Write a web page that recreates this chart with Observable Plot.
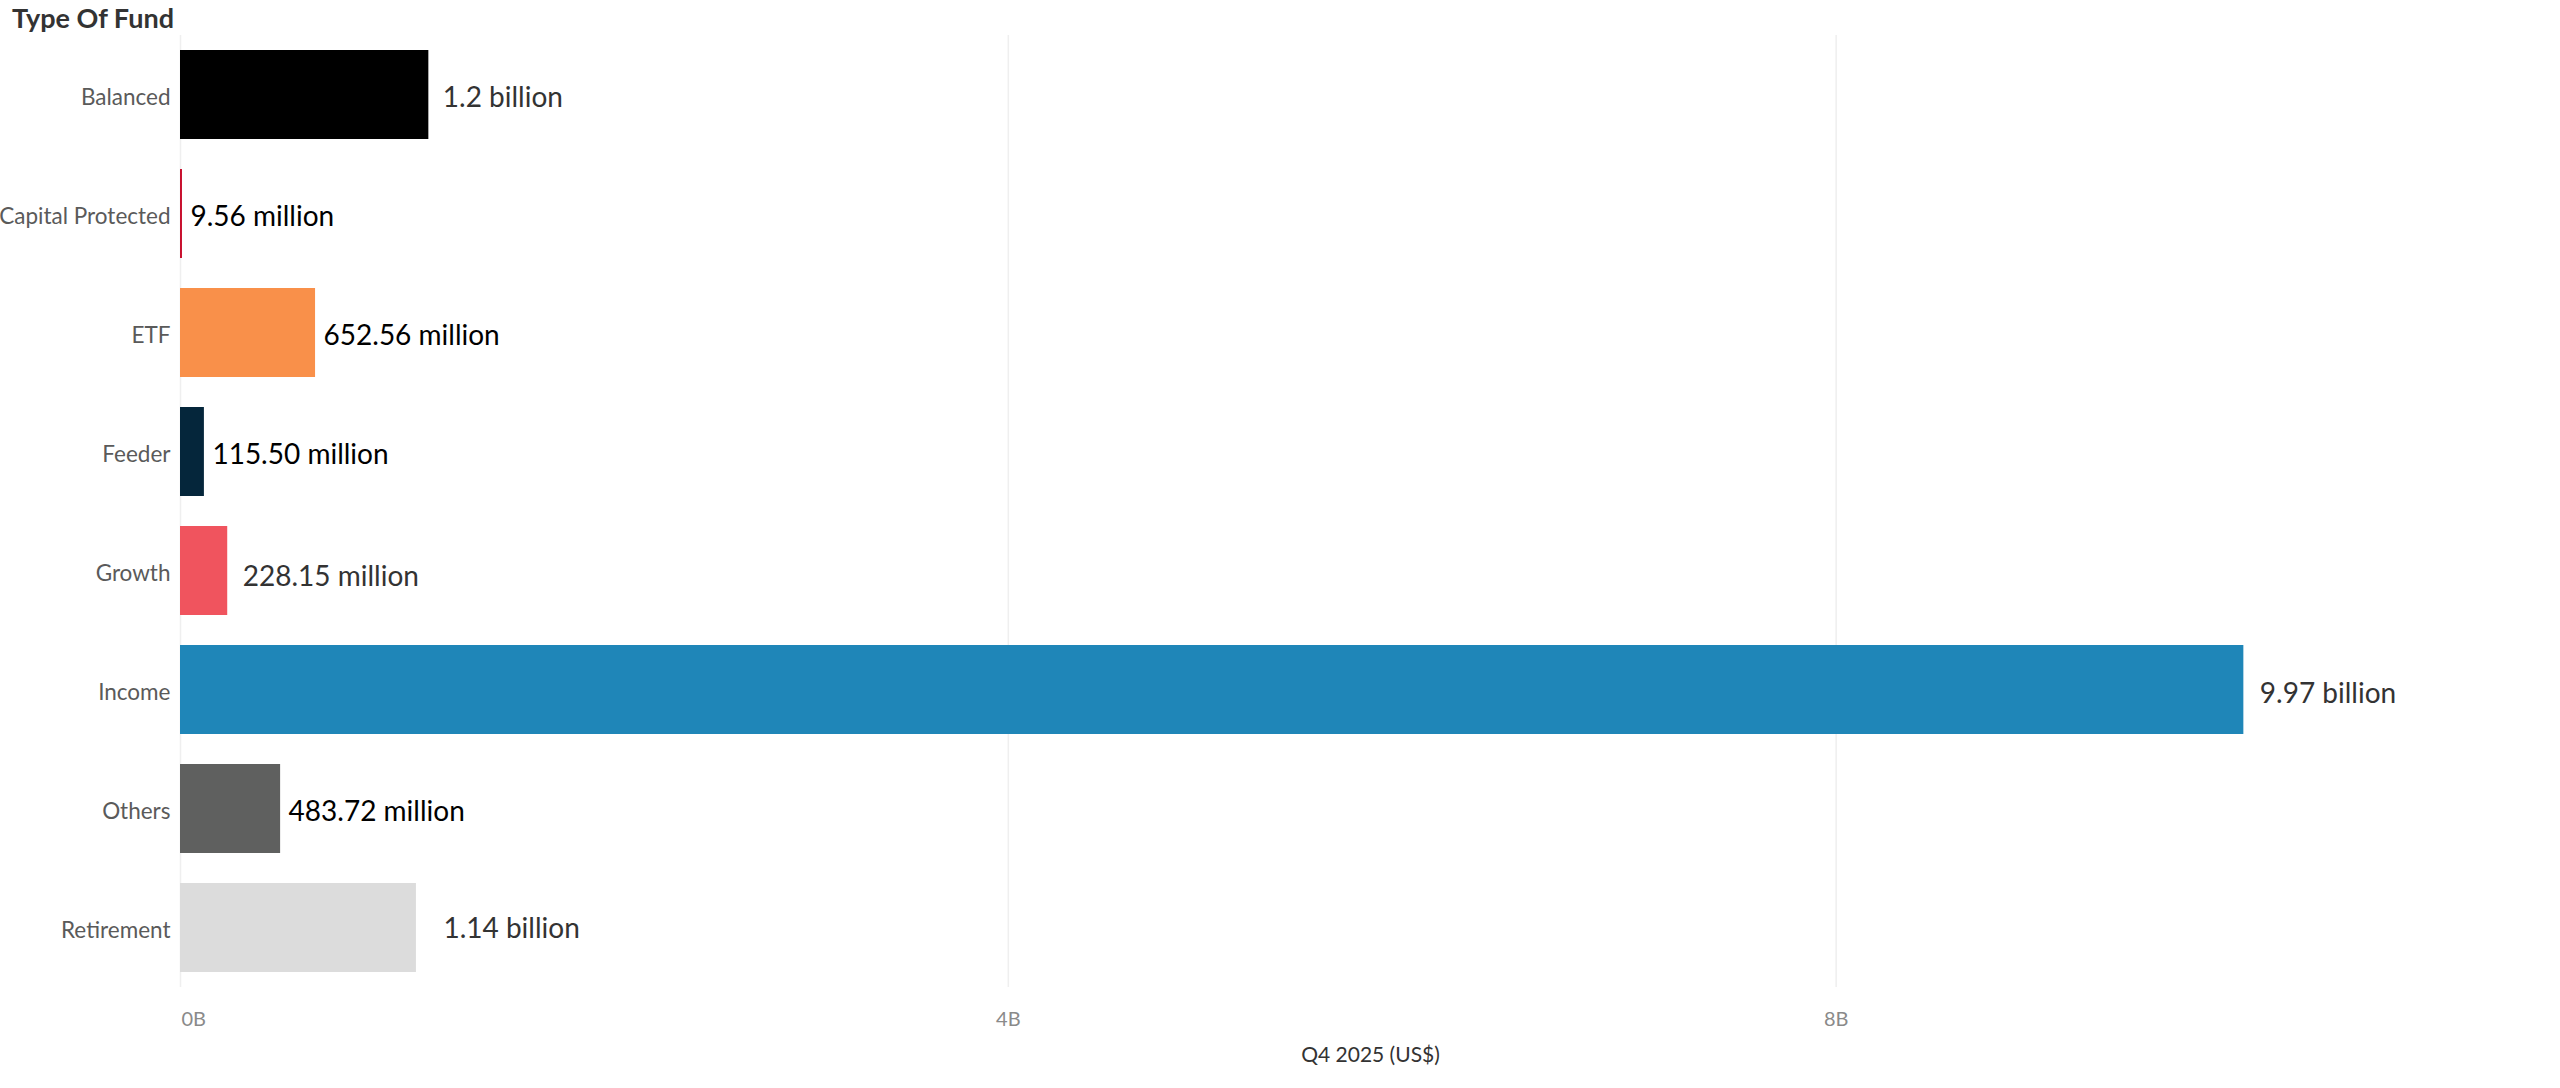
<!DOCTYPE html>
<html>
<head>
<meta charset="utf-8">
<script src="https://cdn.jsdelivr.net/npm/d3@7"></script>
<script src="https://cdn.jsdelivr.net/npm/@observablehq/plot@0.6"></script>
<style>
  html, body { margin: 0; padding: 0; background: #fff; }
  body { width: 2560px; height: 1088px; overflow: hidden; font-family: Lato, "Open Sans", sans-serif; }
  #title { height: 35px; line-height: 36px; padding-left: 12px; font-weight: 700; font-size: 27px; color: #333; }
  svg { display: block; }
</style>
</head>
<body>
<div id="title">Type Of Fund</div>
<div id="chart"></div>
<script>
// ---- data ----
const categories = ["Balanced", "Capital Protected", "ETF", "Feeder", "Growth", "Income", "Others", "Retirement"];
const values = [1.2e9, 9.56e6, 652.56e6, 115.50e6, 228.15e6, 9.97e9, 483.72e6, 1.14e9];
const valueLabels = ["1.2 billion", "9.56 million", "652.56 million", "115.50 million", "228.15 million", "9.97 billion", "483.72 million", "1.14 billion"];
const xTicks = [0, 4e9, 8e9];
const xAxisTitle = "Q4 2025 (US$)";

// ---- styles (kept apart from the data) ----
const barColors = ["#000000", "#c8102e", "#f9904a", "#05263b", "#f0545e", "#1f86b8", "#5f605f", "#dcdcdc"];
const labelStyle = {
  "Balanced": {dx: 14, fill: "#333", dy: 3},
  "Capital Protected": {dx: 8, fill: "#000", dy: 3},
  "ETF": {dx: 8, fill: "#000", dy: 3},
  "Feeder": {dx: 8, fill: "#000", dy: 3},
  "Growth": {dx: 15, fill: "#333", dy: 6},
  "Income": {dx: 16, fill: "#333", dy: 4},
  "Others": {dx: 8, fill: "#000", dy: 3},
  "Retirement": {dx: 27, fill: "#333", dy: 1}
};

const rows = categories.map((c, i) => ({category: c, value: values[i], label: valueLabels[i]}));

const W = 2560, H = 1053;
const fmt = d => (d / 1e9) + "B";

const labelMarks = rows.map(r => {
  const s = labelStyle[r.category] || {dx: 10, fill: "#333", dy: 3};
  return Plot.text([r], {
    x: "value", y: "category", text: "label",
    textAnchor: "start", dx: s.dx, dy: s.dy,
    fill: s.fill, fontSize: 28
  });
});

const chart = Plot.plot({
  width: W,
  height: H,
  marginLeft: 180,
  marginRight: 0,
  marginTop: 0,
  marginBottom: 101,
  style: {fontFamily: "Lato, 'Open Sans', sans-serif", background: "#fff"},
  x: {domain: [0, 11.5e9], axis: null},
  y: {domain: categories, paddingInner: 0.25, paddingOuter: 0.125, axis: null},
  color: {domain: categories, range: barColors},
  marks: [
    Plot.gridX(xTicks, {stroke: "#efefef", strokeOpacity: 1, strokeWidth: 1.5}),
    Plot.barX(rows, {x: "value", y: "category", fill: "category"}),
    ...labelMarks,
    Plot.axisY({tickSize: 0, tickPadding: 10, fontSize: 22.5, fill: "#5a5a5a", dy: 3, label: null}),
    Plot.axisX([0], {tickSize: 0, tickPadding: 24, fontSize: 20, fill: "#8a8a8a", tickFormat: fmt, textAnchor: "start", dx: 1, label: null}),
    Plot.axisX([4e9, 8e9], {tickSize: 0, tickPadding: 24, fontSize: 20, fill: "#8a8a8a", tickFormat: fmt, label: null}),
    Plot.text([xAxisTitle], {frameAnchor: "bottom", text: d => d, dy: 74, fontSize: 21, fill: "#333"})
  ]
});
document.getElementById("chart").appendChild(chart);
</script>
</body>
</html>
